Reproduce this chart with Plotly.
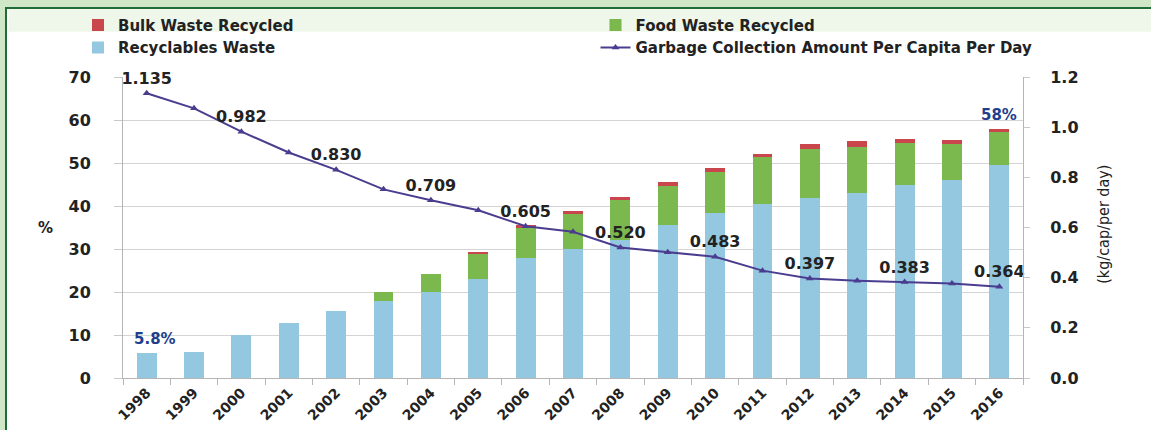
import plotly.graph_objects as go

years = [str(y) for y in range(1998, 2017)]
recyclables = [5.8, 6.1, 10.0, 12.7, 15.6, 17.9, 20.1, 23.0, 27.8, 29.9, 32.2, 35.5, 38.3, 40.5, 41.9, 43.1, 45.0, 46.0, 49.5]
food = [0, 0, 0, 0, 0, 2.2, 4.0, 5.9, 7.3, 8.3, 9.2, 9.2, 9.7, 10.8, 11.3, 10.7, 9.6, 8.4, 7.7]
bulk = [0, 0, 0, 0, 0, 0, 0, 0.5, 0.4, 0.6, 0.7, 0.8, 0.8, 0.9, 1.2, 1.3, 0.9, 0.9, 0.8]
garbage = [1.135, 1.075, 0.982, 0.899, 0.830, 0.752, 0.709, 0.669, 0.605, 0.583,
           0.520, 0.501, 0.483, 0.428, 0.397, 0.388, 0.383, 0.377, 0.364]
labeled_years = ["1998", "2000", "2002", "2004", "2006", "2008", "2010", "2012", "2014", "2016"]
bar_label_years = ["1998", "2016"]
bar_label_texts = ["5.8%", "58%"]

BLUE = "#94c7e0"
GREEN = "#7bb94f"
RED = "#c9474c"
LINE = "#4a3d8f"
FONT = "DejaVu Sans"

line_text = [f"{v:.3f}" if y in labeled_years else "" for y, v in zip(years, garbage)]
totals = [a + b + c for a, b, c in zip(recyclables, food, bulk)]

fig = go.Figure()
fig.add_trace(go.Bar(x=years, y=recyclables, name="Recyclables Waste", marker_color=BLUE,
                     marker_line_width=0, legend="legend", legendrank=2))
fig.add_trace(go.Bar(x=years, y=food, name="Food Waste Recycled", marker_color=GREEN,
                     marker_line_width=0, legend="legend2", legendrank=1))
fig.add_trace(go.Bar(x=years, y=bulk, name="Bulk Waste Recycled", marker_color=RED,
                     marker_line_width=0, legend="legend", legendrank=1))
fig.add_trace(go.Scatter(x=years, y=garbage, yaxis="y2", mode="lines+markers+text",
                         name="Garbage Collection Amount Per Capita Per Day",
                         line=dict(color=LINE, width=2),
                         marker=dict(symbol="triangle-up", size=7, color=LINE),
                         text=line_text, textposition="top center",
                         textfont=dict(family=FONT, size=16, color="#222222", weight="bold"),
                         cliponaxis=False, legend="legend2", legendrank=2))

for yr, txt in zip(bar_label_years, bar_label_texts):
    i = years.index(yr)
    fig.add_annotation(x=i, y=totals[i], xref="x", yref="y", text=txt, showarrow=False,
                       yshift=14, xshift=8 if i == 0 else 0,
                       font=dict(family=FONT, size=15, color="#1f3f8c", weight="bold"))

fig.add_annotation(x=-0.097, y=0.5, xref="paper", yref="paper", text="%", showarrow=False,
                   font=dict(family=FONT, size=15, color="#222222", weight="bold"))
fig.add_annotation(x=1.102, y=0.51, xref="paper", yref="paper", text="(kg/cap/per day)",
                   showarrow=False, textangle=-90,
                   font=dict(family="Liberation Sans Narrow, DejaVu Sans Condensed, sans-serif",
                             size=16, color="#222222"))

# background frame
fig.add_shape(type="rect", xref="paper", yref="paper", x0=-0.13, x1=1.2, y0=-0.3, y1=1.229,
              fillcolor="white", line=dict(color="#1f6b35", width=2), layer="below")
fig.add_shape(type="rect", xref="paper", yref="paper", x0=-0.127, x1=1.2, y0=1.15, y1=1.225,
              fillcolor="#eff7ea", line_width=0, layer="below")

legend_common = dict(orientation="v", xanchor="left", yanchor="top",
                     traceorder="normal", itemwidth=30, tracegroupgap=0,
                     font=dict(family=FONT, size=15, color="#222222", weight="bold"),
                     bgcolor="rgba(0,0,0,0)")

fig.update_layout(
    width=1151, height=430,
    margin=dict(l=123, r=128, t=77, b=52, autoexpand=False),
    paper_bgcolor="#cfe7c7", plot_bgcolor="rgba(0,0,0,0)",
    barmode="stack", bargap=0.58,
    font=dict(family=FONT, color="#222222"),
    showlegend=True,
    legend=dict(x=-0.05, y=1.227, **legend_common),
    legend2=dict(x=0.525, y=1.227, **legend_common),
    xaxis=dict(type="category", range=[-0.5, len(years) - 0.5], tickangle=-45,
               showgrid=False, showline=True,
               linecolor="#b5b5b5", linewidth=1, ticks="outside", tickson="boundaries",
               ticklen=6, tickcolor="#b5b5b5",
               tickfont=dict(family=FONT, size=14, color="#222222", weight="bold")),
    yaxis=dict(range=[0, 70], dtick=10, showgrid=True, gridcolor="#d4d4d4", gridwidth=1,
               showline=True, linecolor="#b5b5b5", ticks="outside", ticklen=8,
               tickcolor="#c8c8c8", ticklabelstandoff=20, zeroline=False,
               tickfont=dict(family=FONT, size=16, color="#222222", weight="bold")),
    yaxis2=dict(range=[0, 1.2], dtick=0.2, tickformat=".1f", overlaying="y", side="right",
                showgrid=False, showline=True, linecolor="#b5b5b5", ticks="outside", ticklen=6,
                tickcolor="#c8c8c8", ticklabelstandoff=17, zeroline=False,
                tickfont=dict(family=FONT, size=16, color="#222222", weight="bold")),
)

fig.write_html("out.html", config={"displayModeBar": False},
               post_script="document.body.style.margin='0px';")
